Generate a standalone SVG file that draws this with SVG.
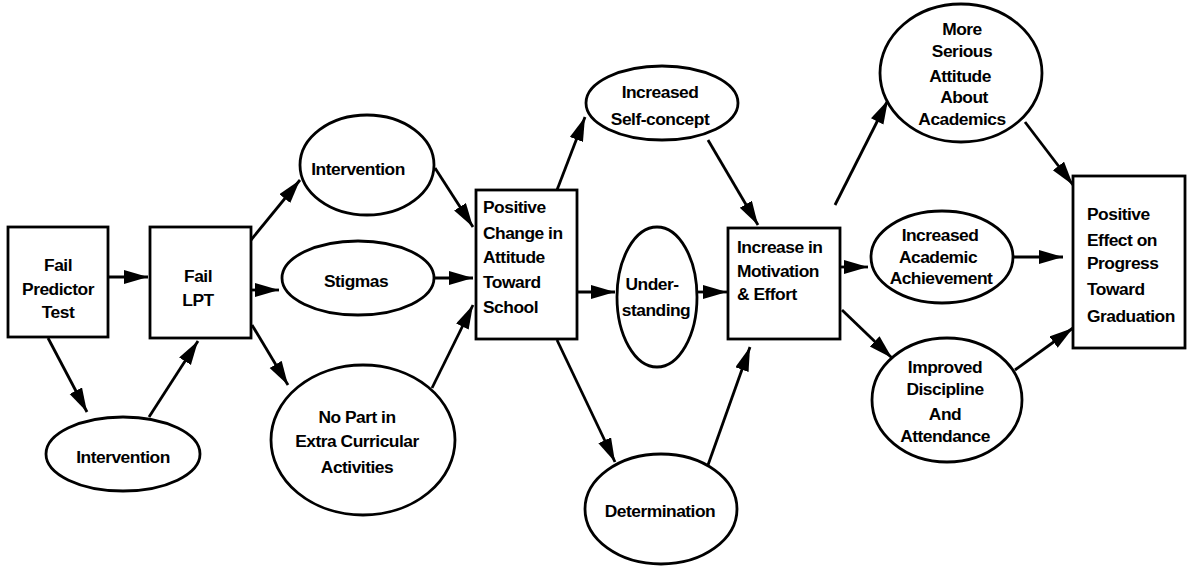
<svg xmlns="http://www.w3.org/2000/svg" width="1190" height="567" viewBox="0 0 1190 567">
<style>
.n{fill:#fff;stroke:#000;stroke-width:2.8}
.t{font-family:"Liberation Sans",Arial,sans-serif;font-weight:bold;font-size:17.4px;letter-spacing:-0.5px;fill:#000}
.c{text-anchor:middle}
.e{stroke:#000;stroke-width:2.8;fill:none;marker-end:url(#ah)}
</style>
<defs>
<marker id="ah" markerUnits="userSpaceOnUse" markerWidth="26" markerHeight="16" refX="24" refY="7" orient="auto">
<path d="M0,0 L24,7 L0,14 Z" fill="#000"/>
</marker>
</defs>
<rect width="1190" height="567" fill="#fff"/>
<g id="connectors">
<line class="e" x1="108" y1="277" x2="148" y2="277"/>
<line class="e" x1="48" y1="338" x2="87" y2="412"/>
<line class="e" x1="149" y1="417" x2="198" y2="341"/>
<line class="e" x1="251" y1="240" x2="300" y2="180"/>
<line class="e" x1="251" y1="290" x2="279" y2="290"/>
<line class="e" x1="252" y1="325" x2="288" y2="385"/>
<line class="e" x1="435" y1="168" x2="473" y2="227"/>
<line class="e" x1="434" y1="278" x2="473" y2="278"/>
<line class="e" x1="432" y1="388" x2="473" y2="305"/>
<line class="e" x1="557" y1="190" x2="585" y2="117"/>
<line class="e" x1="577" y1="292" x2="615" y2="292"/>
<line class="e" x1="557" y1="340" x2="615" y2="462"/>
<line class="e" x1="708" y1="140" x2="758" y2="225"/>
<line class="e" x1="697" y1="292" x2="727" y2="292"/>
<line class="e" x1="708" y1="465" x2="750" y2="347"/>
<line class="e" x1="835" y1="205" x2="888" y2="100"/>
<line class="e" x1="840" y1="267" x2="868" y2="267"/>
<line class="e" x1="842" y1="310" x2="892" y2="358"/>
<line class="e" x1="1025" y1="122" x2="1073" y2="185"/>
<line class="e" x1="1013" y1="257" x2="1063" y2="257"/>
<line class="e" x1="1015" y1="370" x2="1073" y2="328"/>
</g>
<g id="fail-predictor">
<rect class="n" x="8" y="227" width="100" height="110"/>
<text class="t c" x="58" y="271">Fail</text>
<text class="t c" x="58" y="295">Predictor</text>
<text class="t c" x="58" y="318">Test</text>
</g>
<g id="fail-lpt">
<rect class="n" x="150" y="227" width="101" height="111"/>
<text class="t c" x="198" y="282">Fail</text>
<text class="t c" x="198" y="306">LPT</text>
</g>
<g id="intervention-1">
<ellipse class="n" cx="123" cy="454" rx="77" ry="37"/>
<text class="t c" x="123" y="463">Intervention</text>
</g>
<g id="intervention-2">
<ellipse class="n" cx="367" cy="165" rx="67" ry="50"/>
<text class="t c" x="358" y="175">Intervention</text>
</g>
<g id="stigmas">
<ellipse class="n" cx="358" cy="278" rx="76" ry="37"/>
<text class="t c" x="356" y="287">Stigmas</text>
</g>
<g id="no-part">
<ellipse class="n" cx="363" cy="440" rx="92" ry="75"/>
<text class="t c" x="357" y="423">No Part in</text>
<text class="t c" x="357" y="447">Extra Curricular</text>
<text class="t c" x="357" y="473">Activities</text>
</g>
<g id="positive-change">
<rect class="n" x="476" y="190" width="101" height="149"/>
<text class="t" x="483" y="213">Positive</text>
<text class="t" x="483" y="239">Change in</text>
<text class="t" x="483" y="263">Attitude</text>
<text class="t" x="483" y="288">Toward</text>
<text class="t" x="483" y="313">School</text>
</g>
<g id="self-concept">
<ellipse class="n" cx="662" cy="103" rx="76" ry="37"/>
<text class="t c" x="660" y="98">Increased</text>
<text class="t c" x="660" y="125">Self-concept</text>
</g>
<g id="understanding">
<ellipse class="n" cx="657" cy="297" rx="40" ry="70"/>
<text class="t c" x="652" y="290">Under-</text>
<text class="t c" x="656" y="316">standing</text>
</g>
<g id="determination">
<ellipse class="n" cx="661" cy="509" rx="76" ry="55"/>
<text class="t c" x="660" y="517">Determination</text>
</g>
<g id="motivation">
<rect class="n" x="728" y="228" width="112" height="111"/>
<text class="t" x="737" y="253">Increase in</text>
<text class="t" x="737" y="277">Motivation</text>
<text class="t" x="737" y="300">&amp; Effort</text>
</g>
<g id="serious-attitude">
<ellipse class="n" cx="961" cy="73" rx="81" ry="69"/>
<text class="t c" x="962" y="35">More</text>
<text class="t c" x="962" y="57">Serious</text>
<text class="t c" x="960" y="82">Attitude</text>
<text class="t c" x="964" y="103">About</text>
<text class="t c" x="962" y="125">Academics</text>
</g>
<g id="academic-achievement">
<ellipse class="n" cx="942" cy="257" rx="71" ry="46"/>
<text class="t c" x="940" y="241">Increased</text>
<text class="t c" x="938" y="263">Academic</text>
<text class="t c" x="941" y="284">Achievement</text>
</g>
<g id="discipline">
<ellipse class="n" cx="947" cy="400" rx="75" ry="62"/>
<text class="t c" x="945" y="373">Improved</text>
<text class="t c" x="945" y="395">Discipline</text>
<text class="t c" x="945" y="420">And</text>
<text class="t c" x="945" y="442">Attendance</text>
</g>
<g id="positive-effect">
<rect class="n" x="1073" y="176" width="112" height="172"/>
<text class="t" x="1087" y="220">Positive</text>
<text class="t" x="1087" y="246">Effect on</text>
<text class="t" x="1087" y="269">Progress</text>
<text class="t" x="1087" y="295">Toward</text>
<text class="t" x="1087" y="322">Graduation</text>
</g>
</svg>
